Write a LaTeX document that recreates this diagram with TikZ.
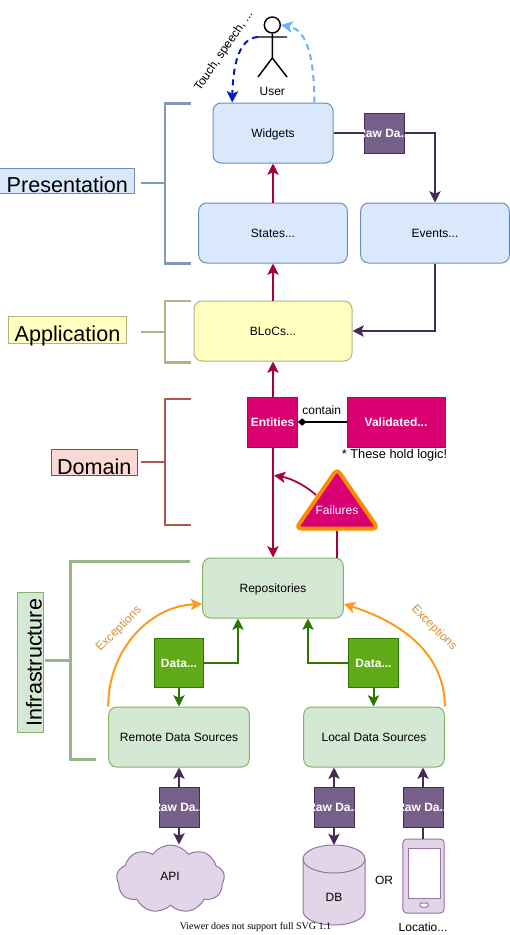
\documentclass[tikz,border=0pt]{standalone}
\usepackage{fontspec}
\setmainfont{Liberation Sans}
\newfontfamily\viewerfont{Liberation Serif}
\usepackage{xcolor}
\usetikzlibrary{arrows.meta,positioning,shapes.symbols,calc}

\definecolor{presfill}{HTML}{DAE8FC}
\definecolor{presdraw}{HTML}{6C8EBF}
\definecolor{presline}{HTML}{8298BA}
\definecolor{appfill}{HTML}{FFFFC0}
\definecolor{appdraw}{HTML}{B3B382}
\definecolor{domfill}{HTML}{FAD9D5}
\definecolor{domdraw}{HTML}{AE4132}
\definecolor{domline}{HTML}{B0574B}
\definecolor{inffill}{HTML}{D5E8D4}
\definecolor{infdraw}{HTML}{82B366}
\definecolor{infline}{HTML}{99B58B}
\definecolor{crimson}{HTML}{A50040}
\definecolor{magentabox}{HTML}{D80073}
\definecolor{rawfill}{HTML}{76608A}
\definecolor{rawdraw}{HTML}{432D57}
\definecolor{rawlight}{HTML}{E1D5E7}
\definecolor{rawedge}{HTML}{9673A6}
\definecolor{datafill}{HTML}{60A917}
\definecolor{datadraw}{HTML}{2D7600}
\definecolor{orangeline}{HTML}{FF9A1C}
\definecolor{orangetext}{HTML}{D98E3C}
\definecolor{failedge}{HTML}{FF8C00}
\definecolor{userdown}{HTML}{001DBC}
\definecolor{userup}{HTML}{66B2FF}

\newcommand{\rawlabel}{\makebox[0pt]{\textbf{Raw Da...}}}

\begin{document}
\begin{tikzpicture}[
  x=0.75pt, y=-0.75pt,
  font=\fontsize{9}{11}\selectfont,
  tip/.style={-{Stealth[inset=2pt,length=8.5pt,width=8.5pt]}},
  block/.style={rectangle, rounded corners=6pt, draw, line width=0.75pt, minimum height=45pt, inner sep=0pt, text height=6.5pt, text depth=0pt},
  presblock/.style={block, fill=presfill, draw=presdraw},
  infblock/.style={block, fill=inffill, draw=infdraw, minimum width=105.5pt},
  layerlabel/.style={rectangle, draw, line width=0.75pt, inner sep=0pt, font=\fontsize{16.2}{18}\selectfont},
  bracket/.style={line width=1.9pt},
  rawbox/.style={rectangle, draw=rawdraw, fill=rawfill, line width=0.75pt, minimum size=30pt, inner sep=0pt, text=white},
  databox/.style={rectangle, draw=datadraw, fill=datafill, line width=0.75pt, minimum size=37pt, inner sep=0pt, text=white, font=\fontsize{9}{11}\selectfont\bfseries},
  magbox/.style={rectangle, draw=crimson!60!magentabox, fill=magentabox, line width=0.5pt, minimum height=37.5pt, inner sep=0pt, text=white, font=\fontsize{9}{11}\selectfont\bfseries},
  crimsonarrow/.style={tip, draw=crimson, line width=1.5pt},
  rawarrow/.style={tip, draw=rawdraw, line width=1.5pt},
  dataarrow/.style={tip, draw=datadraw, line width=1.5pt},
  excarrow/.style={tip, draw=orangeline, line width=1.5pt},
  exctext/.style={text=orangetext}
]
\useasboundingbox (0,0) rectangle (510,935);

% Layer labels
\node[layerlabel, fill=presfill, draw=presdraw, minimum width=101pt, minimum height=19pt] (preslabel) at (67.3,181.3) {\raisebox{-8.7pt}[0pt][0pt]{Presentation}};
\node[layerlabel, fill=appfill, draw=appdraw, minimum width=88.8pt, minimum height=20pt] (applabel) at (67.5,330) {\raisebox{-8.7pt}[0pt][0pt]{Application}};
\node[layerlabel, fill=domfill, draw=domdraw, minimum width=64.5pt, minimum height=19.5pt] (domlabel) at (94.3,462.3) {\raisebox{-9pt}[0pt][0pt]{Domain}};
\node[layerlabel, fill=inffill, draw=infdraw, minimum width=105.3pt, minimum height=19.8pt, rotate=90] (inflabel) at (30.5,662.5) {\raisebox{-8.3pt}[0pt][0pt]{Infrastructure}};

% Brackets
\coordinate (presmid) at (165,183);
\coordinate (appmid) at (165,331.7);
\coordinate (dommid) at (165,462.3);
\coordinate (infmid) at (70.7,660.3);
\coordinate (presstem) at (140.7,183);
\coordinate (appstem) at (140.7,331.7);
\coordinate (domstem) at (140.7,462.3);
\coordinate (infstem) at (45,660.3);
\draw[bracket, presline] (190.7,103.5) -- (165,103.5) -- (165,263.5) -- (190.7,263.5);
\draw[bracket, presline] (presstem) -- (presmid);
\draw[bracket, appdraw] (190.7,301) -- (165,301) -- (165,362.7) -- (190.7,362.7);
\draw[bracket, appdraw, line width=1.5pt] (appstem) -- (appmid);
\draw[bracket, domline, line width=1.5pt] (190.7,399.3) -- (165,399.3) -- (165,525.3) -- (190.7,525.3);
\draw[bracket, domline, line width=1.5pt] (domstem) -- (dommid);
\draw[bracket, infline] (190,561.3) -- (70.7,561.3) -- (70.7,759.3) -- (95.7,759.3);
\draw[bracket, infline] (infstem) -- (infmid);

% User
\node[circle, draw, line width=1.1pt, minimum size=12pt, inner sep=0pt] (head) at (272.3,25) {};
\coordinate (hip) at (272.3,58);
\coordinate (armL) at (258,37);
\coordinate (armR) at (287,37);
\coordinate (legL) at (258,77);
\coordinate (legR) at (287,77);
\draw[line width=1.1pt] (head.south) -- (hip) (armL) -- (armR) (legL) -- (hip) -- (legR);
\node (userlabel) at (272.3,91) {User};
\node[rotate=55.7] (touchlabel) at (224,51) {Touch, speech, ...};

% Presentation
\node[presblock, minimum width=90pt] (widgets) at (273,133) {Widgets};
\node[presblock, minimum width=111.5pt] (states) at (273,233) {States...};
\node[presblock, minimum width=111.5pt] (events) at (435,233) {Events...};
\node[rawbox] (rawtop) at (384,133) {\rawlabel};

% Application
\node[block, fill=appfill, draw=appdraw, minimum width=118.5pt] (blocs) at (273,331) {BLoCs...};

% Domain
\node[magbox, minimum width=37.5pt] (entities) at (272.5,422) {Entities};
\node[magbox, minimum width=73.5pt] (validated) at (396,422) {Validated...};
\node (containlabel) at (321.7,410) {contain};
\node[font=\fontsize{9.6}{11}\selectfont] (logiclabel) at (394.5,455) {* These hold logic!};
\coordinate (failtop) at (337,469);
\coordinate (failright) at (378,528.5);
\coordinate (failleft) at (296,528.5);
\draw[draw=failedge, fill=magentabox, line width=3pt, rounded corners=4pt, line join=round] (failtop) -- (failright) -- (failleft) -- cycle;
\node[text=white] (failures) at (337,510) {Failures};
\coordinate (failout) at (316,495);
\coordinate (failin) at (274,475.5);
\coordinate (failbase) at (337,530.5);

% Infrastructure
\node[infblock] (repos) at (273,588) {Repositories};
\node[infblock] (remote) at (179,737) {Remote Data Sources};
\node[infblock] (local) at (374,737) {Local Data Sources};
\node[databox] (dataL) at (179,663) {Data...};
\node[databox] (dataR) at (373.5,663) {Data...};
\node[rawbox] (rawapi) at (179,807.5) {\rawlabel};
\node[rawbox] (rawdb) at (334,807.5) {\rawlabel};
\node[rawbox] (rawloc) at (423,807.5) {\rawlabel};

% Data sources
\node[cloud, cloud puffs=9, cloud puff arc=110, aspect=1.6, draw=rawedge, fill=rawlight, line width=0.75pt, minimum width=81pt, minimum height=51pt, inner sep=0pt] (api) at (170.5,879) {};
\node (apilabel) at (170,876) {API};
\coordinate (dbtop) at (334,845);
\draw[draw=rawedge, fill=rawlight, line width=0.75pt] (303,859) -- (303,911) arc[start angle=180, end angle=360, x radius=23.25pt, y radius=10.5pt] -- (365,859) arc[start angle=0, end angle=180, x radius=23.25pt, y radius=10.5pt] -- cycle;
\draw[draw=rawedge, line width=0.75pt] (303,859) arc[start angle=180, end angle=360, x radius=23.25pt, y radius=10.5pt];
\node (dblabel) at (334,897) {DB};
\node (orlabel) at (384,880.5) {OR};
\node[rectangle, rounded corners=3pt, draw=rawedge, fill=rawlight, line width=0.75pt, minimum width=31pt, minimum height=55.5pt, inner sep=0pt] (phone) at (423.5,876) {};
\node[rectangle, draw=rawedge, fill=white, line width=0.75pt, minimum width=24pt, minimum height=37.5pt, inner sep=0pt] (screen) at (424,873) {};
\node[rectangle, rounded corners=0.8pt, draw=rawedge, fill=white, line width=0.75pt, minimum width=6pt, minimum height=3pt, inner sep=0pt] (button) at (424,905) {};
\node (loclabel) at (423,927) {Locatio...};
\node[font=\fontsize{7.5}{9}\selectfont\viewerfont, inner sep=0pt] (viewer) at (255.5,927) {Viewer does not support full SVG 1.1};

% Connectors
\draw[tip, draw=userdown, line width=1.5pt, dash pattern=on 4.5pt off 3.5pt] (armL) .. controls (240,38) and (233,62) .. ($(widgets.north west)+(19.7,0)$);
\draw[tip, draw=userup, line width=1.5pt, dash pattern=on 4.5pt off 3.5pt] ($(widgets.north east)+(-19,0)$) .. controls (314,60) and (308,30) .. (head.east);

\draw[crimsonarrow] (states) -- (widgets);
\draw[crimsonarrow] (blocs) -- (states);
\draw[crimsonarrow] (entities.north -| blocs) -- (blocs);
\draw[crimsonarrow] (entities.south -| repos) -- (repos);
\draw[crimsonarrow, line width=1.3pt] (failout) .. controls (305,485) and (290,478) .. (failin);
\draw[draw=crimson, line width=1.5pt] (failbase) -- (failbase |- repos.north);

\draw[-{Diamond[length=6.5pt,width=5.5pt]}, line width=1.5pt] (validated) -- (entities);

\draw[draw=rawdraw, line width=1.5pt] (widgets) -- (rawtop);
\draw[rawarrow] (rawtop) -| (events);
\draw[rawarrow] (events) |- (blocs);
\draw[rawarrow] (rawapi) -- (rawapi |- remote.south);
\draw[rawarrow] (rawapi) -- (rawapi |- api.north);
\draw[rawarrow] (rawdb) -- (rawdb |- local.south);
\draw[rawarrow] (rawdb) -- (dbtop);
\draw[rawarrow] (rawloc) -- (rawloc |- local.south);
\draw[draw=rawdraw, line width=1.5pt] (rawloc) -- (rawloc |- phone.north);

\draw[dataarrow] (dataL) -- (remote);
\draw[dataarrow] (dataL) -| ($(repos.south)+(-35,0)$);
\draw[dataarrow] (dataR) -- (local.north -| dataR);
\draw[dataarrow] (dataR) -| ($(repos.south)+(35,0)$);

\draw[excarrow] (remote.north west) .. controls ($(remote.north west)+(0,-57)$) and (150,606) .. ($(repos.west)+(0,16)$);
\draw[excarrow] (local.north east) .. controls ($(local.north east)+(0,-47)$) and (410,625) .. ($(repos.east)+(0,16)$);
\node[exctext, rotate=45] (excL) at (119,629) {Exceptions};
\node[exctext, rotate=-45] (excR) at (434,628) {Exceptions};

\end{tikzpicture}
\end{document}
